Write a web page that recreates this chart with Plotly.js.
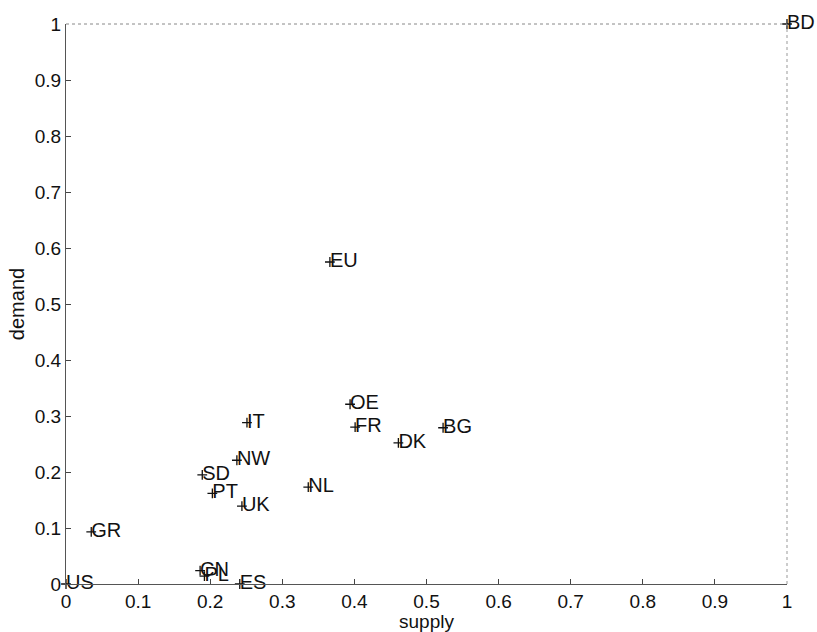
<!DOCTYPE html>
<html><head><meta charset="utf-8">
<script src="https://cdn.plot.ly/plotly-3.0.1.min.js"></script>
<style>body{margin:0;background:#fff}#chart{width:817px;height:632px}</style>
</head><body><div id="chart"></div>
<script>
const labels = ["BD","EU","OE","FR","BG","DK","IT","NW","SD","PT","UK","NL","GR","CN","PL","ES","US"];
const supply = [1.0,0.366,0.394,0.401,0.523,0.461,0.251,0.237,0.189,0.203,0.244,0.336,0.035,0.186,0.192,0.241,0.0];
const demand = [1.0,0.575,0.321,0.280,0.279,0.252,0.288,0.221,0.195,0.162,0.139,0.173,0.093,0.024,0.014,0.0,0.0];
const tickVals = [0,0.1,0.2,0.3,0.4,0.5,0.6,0.7,0.8,0.9,1];
const tickText = ["0","0.1","0.2","0.3","0.4","0.5","0.6","0.7","0.8","0.9","1"];

const font = "Liberation Sans, Arial, sans-serif";
const markTrace = {
  x: supply, y: demand,
  type: "scatter", mode: "markers",
  marker: {symbol: "cross-thin", size: 7, color: "#111", line: {width: 1.3, color: "#111"}},
  cliponaxis: false, hoverinfo: "none"
};
const textTrace = {
  x: supply, y: demand, text: labels,
  type: "scatter", mode: "text",
  textposition: "middle right",
  textfont: {family: font, size: 20, color: "#111"},
  cliponaxis: false, hoverinfo: "none"
};
const axisBase = {
  range: [0, 1], autorange: false, tickmode: "array",
  tickvals: tickVals, ticktext: tickText,
  ticks: "inside", ticklen: 5, tickcolor: "#444", tickwidth: 1,
  showline: true, linecolor: "#555", linewidth: 1, mirror: false,
  showgrid: false, zeroline: false, automargin: false,
  tickfont: {family: font, size: 19, color: "#111"}
};
const layout = {
  width: 817, height: 632,
  margin: {l: 66, r: 30, t: 24, b: 48},
  paper_bgcolor: "#fff", plot_bgcolor: "#fff",
  showlegend: false,
  xaxis: Object.assign({}, axisBase, {
    ticklabelstandoff: 0,
    title: {text: "supply", font: {family: font, size: 19, color: "#111"}, standoff: 0}
  }),
  yaxis: Object.assign({}, axisBase, {
    ticklabelstandoff: 0,
    title: {text: "demand", font: {family: font, size: 20, color: "#111"}, standoff: 4}
  }),
  shapes: [
    {type: "line", xref: "paper", yref: "paper", x0: 0, x1: 1, y0: 1, y1: 1,
     line: {color: "#888", width: 1, dash: "dot"}},
    {type: "line", xref: "paper", yref: "paper", x0: 1, x1: 1, y0: 0, y1: 1,
     line: {color: "#999", width: 1, dash: "dot"}}
  ]
};
Plotly.newPlot("chart", [markTrace, textTrace], layout, {staticPlot: true});
</script></body></html>
